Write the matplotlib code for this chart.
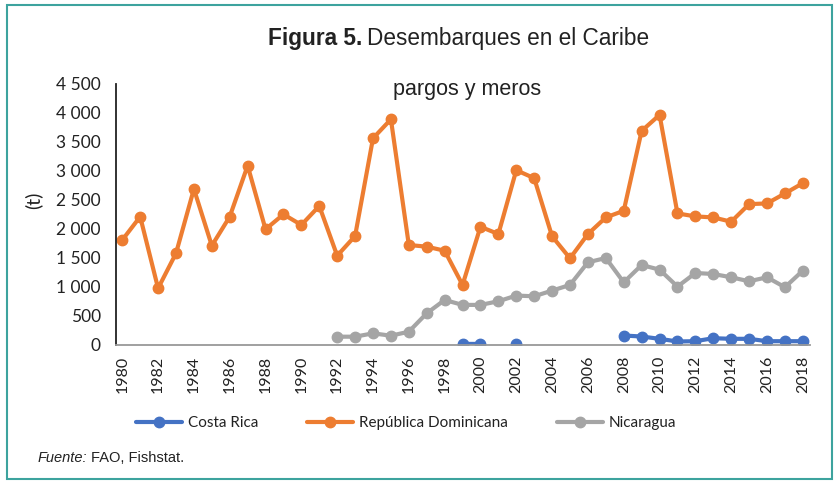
"""
Figura 5: desembarques de pargos y meros en el Caribe.
"""

import numpy as np
import matplotlib
matplotlib.use('Agg')
import matplotlib.pyplot as plt
from matplotlib.patches import Rectangle
from matplotlib.ticker import FuncFormatter, MultipleLocator

years = list(range(1980, 2019))

rep_dominicana = [1805, 2208, 971, 1575, 2686, 1707, 2208, 3089, 1990, 2249,
                  2065, 2393, 1534, 1874, 3562, 3890, 1719, 1690, 1620, 1029,
                  2034, 1908, 3011, 2873, 1868, 1489, 1908, 2195, 2310, 3690,
                  3966, 2264, 2213, 2195, 2121, 2425, 2437, 2609, 2787]

nan = np.nan
nicaragua = [nan] * 12 + [135, 135, 193, 152, 221, 539, 769, 684,
                          684, 747, 845, 833, 931, 1029, 1420, 1494, 1074, 1373,
                          1293, 1000, 1235, 1218, 1161, 1092, 1161, 989, 1276]

costa_rica = [nan] * 19 + [10, 10, nan, 10, nan, nan, nan, nan, nan, 155, 138,
                           98, 52, 57, 109, 98, 98, 57, 57, 57]

colors = {'Costa Rica': '#4472C4',
          'República Dominicana': '#ED7D31',
          'Nicaragua': '#A5A5A5'}

narrow = ['Lato', 'DejaVu Sans']
plt.rcParams['font.family'] = ['Liberation Sans', 'DejaVu Sans']

fig = plt.figure(figsize=(8.36, 4.82), dpi=100)
ax = fig.add_axes([116 / 836, 1 - 344.5 / 482, 694 / 836, 260.5 / 482])

series = [('Costa Rica', costa_rica),
          ('República Dominicana', rep_dominicana),
          ('Nicaragua', nicaragua)]
for name, vals in series:
    ax.plot(years, vals, color=colors[name], lw=3, marker='o', ms=7.5,
            label=name, solid_capstyle='round')

ax.set_xlim(1979.65, 2018.4)
ax.set_ylim(0, 4500)
ax.yaxis.set_major_locator(MultipleLocator(500))
ax.yaxis.set_major_formatter(FuncFormatter(lambda v, p: f'{int(v):,}'.replace(',', ' ')))
ax.set_xticks(years[::2])
ax.set_xticklabels([str(y) for y in years[::2]], rotation=90,
                   family=narrow, fontsize=11.5, color='#222222')
for lab in ax.get_yticklabels():
    lab.set_family(narrow)
    lab.set_fontsize(12.5)
    lab.set_color('#222222')
ax.tick_params(axis='y', length=0, pad=11)
ax.tick_params(axis='x', length=0, pad=8)

for s in ['top', 'right']:
    ax.spines[s].set_visible(False)
ax.spines['left'].set_color('#222222')
ax.spines['left'].set_linewidth(1.3)
ax.spines['bottom'].set_color('#999999')
ax.spines['bottom'].set_linewidth(1.3)

fig.text(33 / 836, 1 - 200 / 482, '(t)', rotation=90, ha='center', va='center',
         fontsize=14, color='#222222', family=narrow)

fig.text(467 / 836, 1 - 90 / 482, 'pargos y meros', ha='center', va='center',
         fontsize=15.5, color='#222222')

t1 = fig.text(268 / 836, 1 - 38 / 482, 'Figura 5.', ha='left', va='center',
              fontsize=16.3, weight='bold', color='#222222')
fig.canvas.draw()
bb = t1.get_window_extent()
fig.text(bb.x1 / 836 + 5 / 836, 1 - 38 / 482, 'Desembarques en el Caribe',
         ha='left', va='center', fontsize=16.3, color='#222222')

leg = fig.legend(loc='center', bbox_to_anchor=(406 / 836, 1 - 423 / 482),
                 ncol=3, frameon=False, handlelength=3.0, columnspacing=3.2,
                 handletextpad=0.4, prop={'family': narrow, 'size': 11})
for t in leg.get_texts():
    t.set_color('#222222')

f1 = fig.text(38 / 836, 1 - 458 / 482, 'Fuente:', ha='left', va='center',
              fontsize=10.5, style='italic', color='#222222')
fig.canvas.draw()
bb = f1.get_window_extent()
fig.text(bb.x1 / 836 + 3 / 836, 1 - 458 / 482, 'FAO, Fishstat.', ha='left',
         va='center', fontsize=10.5, color='#222222')

fig.patches.append(Rectangle((7 / 836, 1 - 479 / 482), 825 / 836, 474 / 482,
                             transform=fig.transFigure, fill=False,
                             edgecolor='#3DA39E', lw=1.5))

fig.savefig('out.png', dpi=100)
